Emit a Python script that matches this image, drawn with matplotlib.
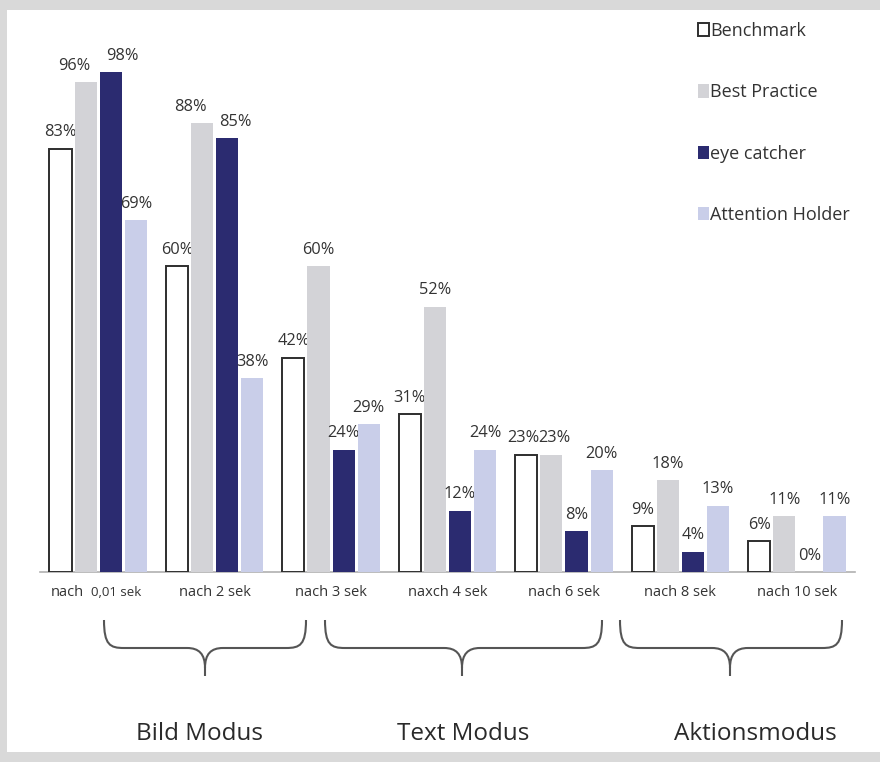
import matplotlib
matplotlib.use("Agg")
import matplotlib.pyplot as plt
from matplotlib.patches import Rectangle, PathPatch
from matplotlib.path import Path
from matplotlib.transforms import Affine2D, blended_transform_factory
import numpy as np

plt.rcParams['font.family'] = ['Open Sans', 'DejaVu Sans']

# ---- data ----
categories = ["nach 0,01 sek", "nach 2 sek", "nach 3 sek", "naxch 4 sek",
              "nach 6 sek", "nach 8 sek", "nach 10 sek"]
series_names = ["Benchmark", "Best Practice", "eye catcher", "Attention Holder"]
benchmark = [83, 60, 42, 31, 23, 9, 6]
best_practice = [96, 88, 60, 52, 23, 18, 11]
eye_catcher = [98, 85, 24, 12, 8, 4, 0]
attention_holder = [69, 38, 29, 24, 20, 13, 11]
modes = ["Bild Modus", "Text Modus", "Aktionsmodus"]

series_values = [benchmark, best_practice, eye_catcher, attention_holder]
face_colors = ["white", "#d3d3d7", "#2b2b70", "#c9cee9"]
edge_colors = ["#2e2e2e", "none", "none", "none"]
text_color = "#333333"

W, H = 880, 762
fig = plt.figure(figsize=(W / 100, H / 100), dpi=100)
fig.patch.set_facecolor("#d9d9d9")

# pixel-based transform (origin top-left) for frame and decorations
px = Affine2D().scale(1 / W, -1 / H).translate(0, 1) + fig.transFigure

# white card inside the grey frame
fig.patches.append(Rectangle((7, 10), W - 7, 742, transform=px,
                             facecolor="white", edgecolor="none", zorder=-5))

ax = fig.add_axes([40 / W, (H - 572) / H, (855 - 40) / W, 510 / H])
ax.set_zorder(2)
ax.set_facecolor("none")
ax.set_xlim(-0.5, 6.5)
ax.set_ylim(0, 100)
for s in ["top", "right", "left"]:
    ax.spines[s].set_visible(False)
ax.spines["bottom"].set_color("#b0b0b0")
ax.spines["bottom"].set_linewidth(1.2)
ax.set_yticks([])

x = np.arange(len(categories))
bar_w = 0.19
step = 0.216

# label nudges (in pixels) where neighbouring labels would collide
nudge = {(1, 0): -11, (2, 0): 12, (1, 1): -12, (2, 1): 8,
         (0, 4): -3, (1, 4): 3}

for i, (name, vals) in enumerate(zip(series_names, series_values)):
    pos = x + (i - 1.5) * step
    ax.bar(pos, vals, bar_w, color=face_colors[i],
           edgecolor=edge_colors[i], linewidth=1.4, label=name, zorder=3)
    for j, (p, v) in enumerate(zip(pos, vals)):
        dx = nudge.get((i, j), 0) * 0.72
        ax.annotate(f"{v}%", (p, v), xytext=(dx, 6), textcoords="offset points",
                    ha="center", va="bottom", fontsize=11.8, color=text_color,
                    annotation_clip=False)

# category labels
ax.set_xticks(x[1:])
ax.set_xticklabels(categories[1:], fontsize=10.5, color=text_color)
ax.tick_params(axis="x", length=0, pad=9)
blend = blended_transform_factory(ax.transData, px)
first_word, rest = categories[0].split(" ", 1)
ax.text(x[0] - 0.12, 592, first_word, transform=blend, ha="right", va="center",
        fontsize=10.5, color=text_color)
ax.text(x[0] - 0.06, 593, rest, transform=blend, ha="left", va="center",
        fontsize=9.5, color=text_color)

# legend
ax.legend(loc="upper left", bbox_to_anchor=(689 / W, 1 - 13 / H),
          bbox_transform=fig.transFigure, frameon=False, fontsize=13,
          handlelength=0.6, handleheight=0.75, handletextpad=0.05,
          labelspacing=2.4, borderpad=0, labelcolor=text_color)


def brace(L, R, C, T, Hh, B):
    verts = [(L, T), (L, Hh - 3), (L + 6, Hh), (L + 20, Hh),
             (C - 18, Hh),
             (C - 6, Hh), (C, Hh + 6), (C, Hh + 20),
             (C, B),
             (C, Hh + 20), (C, Hh + 6), (C + 6, Hh), (C + 18, Hh),
             (R - 20, Hh),
             (R - 6, Hh), (R, Hh - 3), (R, T)]
    codes = [Path.MOVETO, Path.CURVE4, Path.CURVE4, Path.CURVE4,
             Path.LINETO,
             Path.CURVE4, Path.CURVE4, Path.CURVE4,
             Path.LINETO,
             Path.MOVETO, Path.CURVE4, Path.CURVE4, Path.CURVE4,
             Path.LINETO,
             Path.CURVE4, Path.CURVE4, Path.CURVE4]
    fig.patches.append(PathPatch(Path(verts, codes), transform=px,
                                 facecolor="none", edgecolor="#555555",
                                 linewidth=1.5))


brace(104, 306, 205, 620, 648, 676)
brace(325, 602, 462, 620, 648, 676)
brace(620, 842, 730, 620, 648, 676)

for label, cx in zip(modes, [199, 463, 755]):
    fig.text(cx / W, 1 - 734 / H, label, ha="center", va="center",
             fontsize=17.5, color="#2a2a2a")

fig.savefig("out.png", dpi=100)
